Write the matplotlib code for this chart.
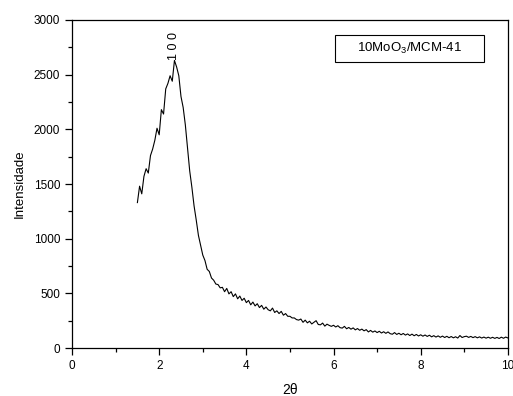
import matplotlib

matplotlib.use("Agg")  # Use non-interactive backend
import matplotlib.pyplot as plt
from matplotlib.patches import Rectangle
from matplotlib.ticker import MultipleLocator

# 2-theta scan, step 0.05 deg
two_theta = [round(1.50 + 0.05 * i, 2) for i in range(171)]

intensity = [
    1330, 1480, 1410, 1570, 1640, 1600, 1760, 1820, 1900, 2010,   # 1.50-1.95
    1950, 2180, 2140, 2370, 2420, 2490, 2440, 2630, 2570, 2490,   # 2.00-2.45
    2300, 2200, 2040, 1830, 1620, 1470, 1300, 1170, 1030, 940,    # 2.50-2.95
    850, 800, 720, 700, 640, 620, 585, 580, 550, 555,             # 3.00-3.45
    515, 545, 495, 515, 470, 495, 450, 475, 435, 455,             # 3.50-3.95
    415, 435, 395, 420, 385, 405, 370, 390, 355, 375,             # 4.00-4.45
    350, 340, 365, 325, 340, 315, 335, 300, 315, 290,             # 4.50-4.95
    290, 275, 275, 260, 255, 265, 235, 255, 230, 245,             # 5.00-5.45
    220, 235, 250, 215, 212, 228, 200, 218, 207, 198,             # 5.50-5.95
    208, 192, 204, 186, 182, 198, 176, 188, 172, 184,             # 6.00-6.45
    166, 178, 162, 173, 157, 168, 147, 161, 145, 156,             # 6.50-6.95
    141, 153, 137, 149, 134, 147, 131, 126, 141, 124,             # 7.00-7.45
    135, 121, 133, 118, 129, 114, 127, 112, 124, 110,             # 7.50-7.95
    121, 108, 119, 106, 117, 102, 113, 100, 111, 98,              # 8.00-8.45
    109, 96, 107, 94, 105, 93, 103, 91, 114, 96,                  # 8.50-8.95
    104, 108, 97, 106, 95, 104, 93, 102, 91, 100,                 # 9.00-9.45
    90, 99, 89, 98, 88, 97, 87, 99, 89, 100,                      # 9.50-9.95
    92,                                                           # 10.00
]

peak_x = 2.35
peak_y = 2630
peak_label = "1 0 0"
sample_label = r"10MoO$_3$/MCM-41"

plt.rcParams["font.family"] = ["Liberation Sans", "DejaVu Sans"]
plt.rcParams["mathtext.fontset"] = "custom"
plt.rcParams["mathtext.rm"] = "Liberation Sans"
plt.rcParams["mathtext.it"] = "Liberation Sans"


def plot_xrd():
    fig = plt.figure(figsize=(5.13, 3.96), dpi=100)
    ax = fig.add_axes([0.1404, 0.1212, 0.8496, 0.8283])

    ax.plot(two_theta, intensity, color="black", linewidth=0.8)

    ax.set_xlim(0, 10)
    ax.set_ylim(0, 3000)
    ax.xaxis.set_major_locator(MultipleLocator(2))
    ax.xaxis.set_minor_locator(MultipleLocator(1))
    ax.yaxis.set_major_locator(MultipleLocator(500))
    ax.yaxis.set_minor_locator(MultipleLocator(250))
    ax.tick_params(which="both", direction="out", top=False, right=False,
                   labelsize=8.5, width=0.9, colors="black")
    ax.tick_params(which="major", length=5)
    ax.tick_params(which="minor", length=3)
    for side in ax.spines.values():
        side.set_linewidth(0.9)

    ax.set_xlabel("2θ", fontsize=10, labelpad=8)
    ax.set_ylabel("Intensidade", fontsize=9.5, labelpad=6)

    ax.text(peak_x, peak_y, peak_label, rotation=90, ha="center", va="bottom",
            fontsize=9)

    ax.add_patch(Rectangle((0.603, 0.872), 0.342, 0.082, transform=ax.transAxes,
                           fill=False, edgecolor="black", linewidth=0.8))
    ax.text(0.774, 0.913, sample_label, transform=ax.transAxes,
            ha="center", va="center", fontsize=9.5)

    fig.savefig("out.png", dpi=100)


if __name__ == "__main__":
    plot_xrd()
